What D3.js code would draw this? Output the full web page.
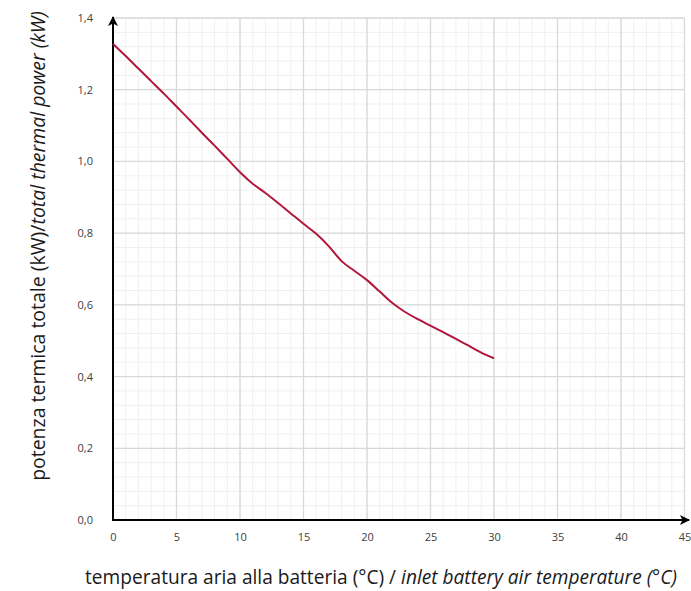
<!DOCTYPE html>
<html>
<head>
<meta charset="utf-8">
<script src="https://cdn.jsdelivr.net/npm/d3@7"></script>
<style>
  html, body { margin: 0; padding: 0; background: #fff; }
  svg { display: block; }
  text { font-family: "Open Sans", "Noto Sans", sans-serif; }
</style>
</head>
<body>
<svg id="chart" width="691" height="591"></svg>
<script>
// Inlet battery air temperature (°C)
const temperature = [0, 1, 2, 3, 4, 5, 6, 7, 8, 9, 10, 11, 12, 13, 14, 15,
  16, 17, 18, 19, 20, 21, 22, 23, 24, 25, 26, 27, 28, 29, 30];
// Total thermal power (kW)
const power = [1.328, 1.294, 1.259, 1.224, 1.189, 1.153, 1.117, 1.080, 1.044, 1.007,
  0.970, 0.938, 0.912, 0.884, 0.855, 0.826, 0.798, 0.763, 0.722, 0.695,
  0.669, 0.637, 0.605, 0.580, 0.560, 0.542, 0.524, 0.505, 0.486, 0.467, 0.451];

const xTicks = [0, 5, 10, 15, 20, 25, 30, 35, 40, 45];
const yTicks = [0, 0.2, 0.4, 0.6, 0.8, 1.0, 1.2, 1.4];
const xTitleIt = "temperatura aria alla batteria (°C) / ";
const xTitleEn = "inlet battery air temperature (°C)";
const yTitleIt = "potenza termica totale (kW)/";
const yTitleEn = "total thermal power (kW)";

const svg = d3.select("#chart");
const x = d3.scaleLinear().domain([0, 45]).range([113, 684.5]);
const y = d3.scaleLinear().domain([0, 1.4]).range([520, 18]);

// Minor grid
const g = svg.append("g");
g.selectAll(".vminor").data(d3.range(0, 46, 1)).join("line")
  .attr("x1", d => x(d)).attr("x2", d => x(d))
  .attr("y1", y(0)).attr("y2", y(1.4))
  .attr("stroke", "#f0f0f0").attr("stroke-width", 1);
g.selectAll(".hminor").data(d3.range(0, 36).map(i => i * 0.04)).join("line")
  .attr("x1", x(0)).attr("x2", x(45))
  .attr("y1", d => y(d)).attr("y2", d => y(d))
  .attr("stroke", "#f0f0f0").attr("stroke-width", 1);
// Major grid
g.selectAll(".vmajor").data(xTicks).join("line")
  .attr("x1", d => x(d)).attr("x2", d => x(d))
  .attr("y1", y(0)).attr("y2", y(1.4))
  .attr("stroke", "#d9d9d9").attr("stroke-width", 1.3);
g.selectAll(".hmajor").data(yTicks).join("line")
  .attr("x1", x(0)).attr("x2", x(45))
  .attr("y1", d => y(d)).attr("y2", d => y(d))
  .attr("stroke", "#d9d9d9").attr("stroke-width", 1.3);

// Axes via d3 axis generators (labels only; lines drawn separately with arrows)
const fmt = d => d.toFixed(1).replace(".", ",");
const yAxis = svg.append("g").attr("transform", `translate(${x(0) - 20},0)`)
  .call(d3.axisLeft(y).tickValues(yTicks).tickFormat(fmt).tickSize(0));
yAxis.select(".domain").remove();
yAxis.selectAll("text").attr("x", 0).attr("font-size", 11).attr("fill", "#404040")
  .style("font-family", "'Open Sans', sans-serif");

const xAxis = svg.append("g").attr("transform", `translate(0,${y(0) + 11})`)
  .call(d3.axisBottom(x).tickValues(xTicks).tickFormat(d3.format("d")).tickSize(0));
xAxis.select(".domain").remove();
xAxis.selectAll("text").attr("y", 2).attr("font-size", 11).attr("fill", "#404040")
  .style("font-family", "'Open Sans', sans-serif");

// Axis lines with arrowheads
const defs = svg.append("defs");
defs.append("marker").attr("id", "arrow").attr("viewBox", "0 0 10 10")
  .attr("refX", 9).attr("refY", 5).attr("markerWidth", 5).attr("markerHeight", 5)
  .attr("markerUnits", "strokeWidth").attr("orient", "auto")
  .append("path").attr("d", "M0,0 L10,5 L0,10 L2.5,5 Z").attr("fill", "#000");

svg.append("line").attr("x1", x(0)).attr("y1", y(0) + 1).attr("x2", x(0)).attr("y2", 17)
  .attr("stroke", "#000").attr("stroke-width", 2).attr("marker-end", "url(#arrow)");
svg.append("line").attr("x1", x(0) - 1).attr("y1", y(0)).attr("x2", 689).attr("y2", y(0))
  .attr("stroke", "#000").attr("stroke-width", 2).attr("marker-end", "url(#arrow)");

// Data curve
const line = d3.line().x((d, i) => x(temperature[i])).y(d => y(d)).curve(d3.curveMonotoneX);
svg.append("path").datum(power).attr("d", line)
  .attr("fill", "none").attr("stroke", "#b1173b").attr("stroke-width", 2);

// Axis titles
const xt = svg.append("text").attr("x", 381).attr("y", 584).attr("text-anchor", "middle")
  .attr("font-size", 16).attr("fill", "#1a1a1a");
xt.append("tspan").text(xTitleIt);
xt.append("tspan").attr("font-style", "italic").text(xTitleEn);

const yt = svg.append("text").attr("transform", "translate(45,246) rotate(-90)")
  .attr("text-anchor", "middle").attr("font-size", 16).attr("fill", "#1a1a1a");
yt.append("tspan").text(yTitleIt);
yt.append("tspan").attr("font-style", "italic").text(yTitleEn);

// Fit titles to their spans
function fit(sel, target) {
  const w = sel.node().getComputedTextLength();
  sel.attr("font-size", 16 * target / w);
}
fit(xt, 592);
fit(yt, 470);
</script>
</body>
</html>
